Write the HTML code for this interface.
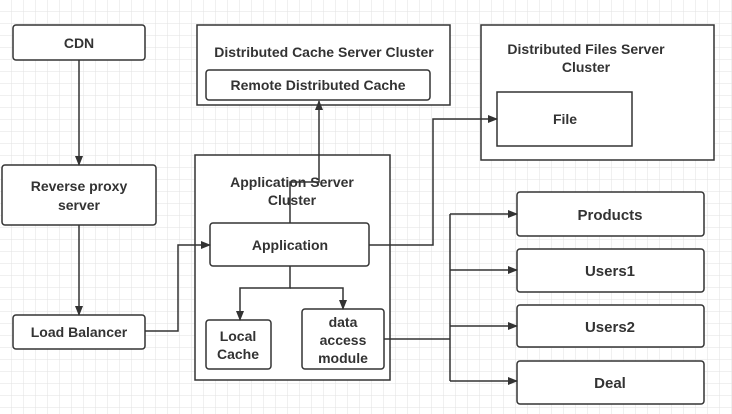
<!DOCTYPE html>
<html><head><style>
html,body{margin:0;padding:0;background:#fff;}
svg{display:block;}
text{font-family:"Liberation Sans",sans-serif;font-weight:bold;fill:#333;text-anchor:middle;}
</style></head><body>
<svg width="732" height="414" viewBox="0 0 732 414" xmlns="http://www.w3.org/2000/svg">
<defs>
<pattern id="g" width="12" height="12" patternUnits="userSpaceOnUse">
<path d="M12 0V12H0" fill="none" stroke="#e2e2e2" stroke-width="1"/>
</pattern>
<marker id="a" markerWidth="10" markerHeight="10" refX="9" refY="5" orient="auto" markerUnits="userSpaceOnUse">
<path d="M0 1L10 5L0 9Z" fill="#333"/>
</marker>
</defs>
<rect width="732" height="414" fill="url(#g)"/>
<g fill="#fff" stroke="#333" stroke-width="1.5">
<rect x="13" y="25" width="132" height="35" rx="3"/>
<rect x="2" y="165" width="154" height="60" rx="3"/>
<rect x="13" y="315" width="132" height="34" rx="3"/>
<rect x="197" y="25" width="253" height="80"/>
<rect x="206" y="70" width="224" height="30" rx="3"/>
<rect x="481" y="25" width="233" height="135"/>
<rect x="497" y="92" width="135" height="54"/>
<rect x="195" y="155" width="195" height="225"/>
<rect x="210" y="223" width="159" height="43" rx="3"/>
<rect x="206" y="320" width="65" height="49" rx="3"/>
<rect x="302" y="309" width="82" height="60" rx="3"/>
<rect x="517" y="192" width="187" height="44" rx="3"/>
<rect x="517" y="249" width="187" height="43" rx="3"/>
<rect x="517" y="305" width="187" height="42" rx="3"/>
<rect x="517" y="361" width="187" height="43" rx="3"/>
</g>
<g fill="none" stroke="#333" stroke-width="1.5">
<path d="M79 60V165" marker-end="url(#a)"/>
<path d="M79 225V315" marker-end="url(#a)"/>
<path d="M145 331H178V245H210" marker-end="url(#a)"/>
<path d="M290 223V182H319V101" marker-end="url(#a)"/>
<path d="M369 245H433V119H497" marker-end="url(#a)"/>
<path d="M290 266V288H240V320" marker-end="url(#a)"/>
<path d="M290 288H343V309" marker-end="url(#a)"/>
<path d="M384 339H450"/>
<path d="M450 214V381"/>
<path d="M450 214H517" marker-end="url(#a)"/>
<path d="M450 270H517" marker-end="url(#a)"/>
<path d="M450 326H517" marker-end="url(#a)"/>
<path d="M450 381H517" marker-end="url(#a)"/>
</g>
<text x="79" y="48" font-size="14">CDN</text>
<text x="79" y="191" font-size="14">Reverse proxy</text>
<text x="79" y="210" font-size="14">server</text>
<text x="79" y="337" font-size="14">Load Balancer</text>
<text x="324" y="57" font-size="14">Distributed Cache Server Cluster</text>
<text x="318" y="90" font-size="14">Remote Distributed Cache</text>
<text x="586" y="54" font-size="14">Distributed Files  Server</text>
<text x="586" y="72" font-size="14">Cluster</text>
<text x="565" y="124" font-size="14">File</text>
<text x="292" y="187" font-size="14">Application  Server</text>
<text x="292" y="205" font-size="14">Cluster</text>
<text x="290" y="250" font-size="14">Application</text>
<text x="238" y="341" font-size="14">Local</text>
<text x="238" y="359" font-size="14">Cache</text>
<text x="343" y="327" font-size="14">data</text>
<text x="343" y="345" font-size="14">access</text>
<text x="343" y="363" font-size="14">module</text>
<text x="610" y="220" font-size="15">Products</text>
<text x="610" y="276" font-size="15">Users1</text>
<text x="610" y="332" font-size="15">Users2</text>
<text x="610" y="388" font-size="15">Deal</text>
</svg>
</body></html>
